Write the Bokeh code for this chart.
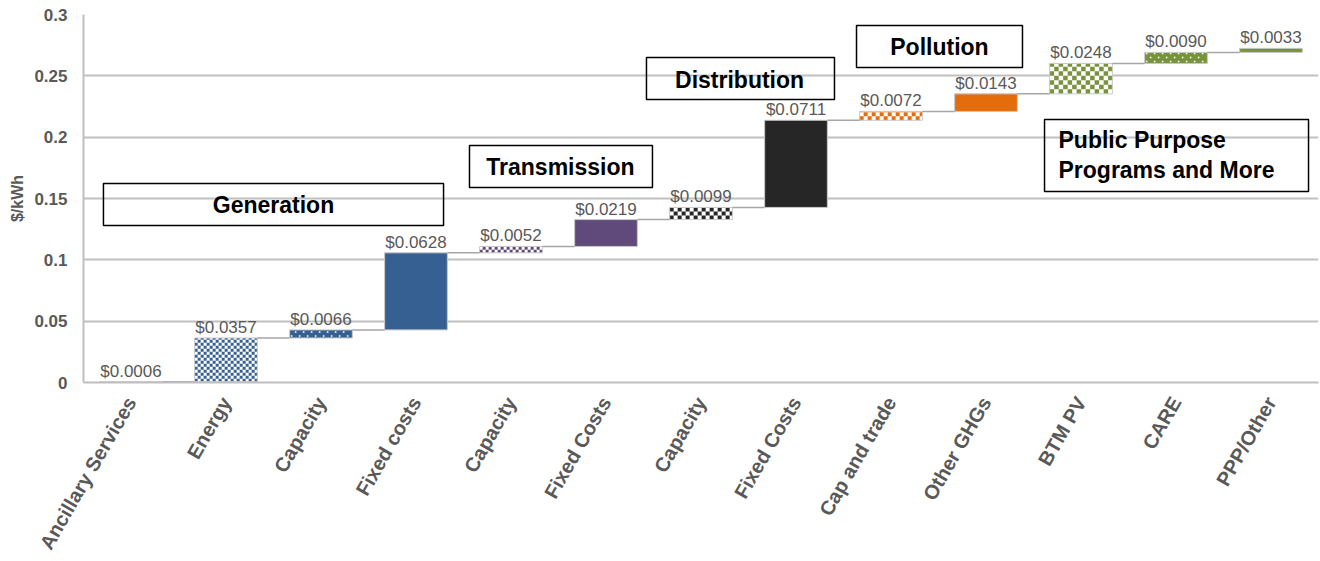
import numpy as np
from bokeh.plotting import figure
from bokeh.models import ColumnDataSource, Range1d, FixedTicker
from bokeh.core.properties import value
from bokeh.embed import file_html
from bokeh.resources import INLINE

# ---------------- data ----------------
categories = ["Ancillary Services", "Energy", "Capacity", "Fixed costs",
              "Capacity", "Fixed Costs", "Capacity", "Fixed Costs",
              "Cap and trade", "Other GHGs", "BTM PV", "CARE", "PPP/Other"]
costs = [0.0006, 0.0357, 0.0066, 0.0628, 0.0052, 0.0219, 0.0099, 0.0711,
         0.0072, 0.0143, 0.0248, 0.0090, 0.0033]
y_ticks = [0, 0.05, 0.1, 0.15, 0.2, 0.25, 0.3]
y_tick_labels = ["0", "0.05", "0.1", "0.15", "0.2", "0.25", "0.3"]
group_names = ["Generation", "Transmission", "Distribution", "Pollution",
               "Public Purpose\nPrograms and More"]

# ---------------- styles ----------------
BLUE, PURPLE, DARK, ORANGE, GREEN = "#376092", "#604A7B", "#262626", "#E46C0A", "#77933C"
GREY_TXT = "#595959"
FONT = "Liberation Sans"

# bar style: (background fill, pattern kind, pattern colour, pattern cell px)
styles = [("#bfbfbf", None, None, 0),
          ("white", "checker", BLUE, 3),
          (BLUE, "dots", "white", 8),
          (BLUE, None, None, 0),
          ("white", "checker", PURPLE, 3),
          (PURPLE, None, None, 0),
          ("white", "checker", DARK, 4),
          (DARK, None, None, 0),
          ("white", "checker", ORANGE, 4),
          (ORANGE, None, None, 0),
          ("white", "checker", GREEN, 4.5),
          (GREEN, "dots", "white", 8),
          (GREEN, None, None, 0)]

W = 0.66
FRAME_W, FRAME_H = 1235, 368
Y_MAX = 0.3
PX_X = len(categories) / FRAME_W      # data units per screen px (x)
PX_Y = Y_MAX / FRAME_H                # data units per screen px (y)

vals = np.array(costs)
top = np.cumsum(vals)
bottom = top - vals
idx = np.arange(len(categories))

src = ColumnDataSource(dict(x=idx, top=top, bottom=bottom,
                            fill=[s[0] for s in styles],
                            lbl=[f"${v:.4f}" for v in costs]))

# pattern geometry derived from bar extents
ck_l, ck_r, ck_b, ck_t, ck_c = [], [], [], [], []
dot_x, dot_y = [], []
for i, (bg, kind, pc, cell) in enumerate(styles):
    L, R, B, T = i - W / 2, i + W / 2, bottom[i], top[i]
    if kind == "checker":
        cx, cy = cell * PX_X, cell * PX_Y
        ncol = int(np.ceil((R - L) / cx))
        nrow = int(np.ceil((T - B) / cy))
        for r in range(nrow):
            for k in range(ncol):
                if (r + k) % 2 == 0:
                    ck_l.append(L + k * cx)
                    ck_r.append(min(L + (k + 1) * cx, R))
                    ck_b.append(B + r * cy)
                    ck_t.append(min(B + (r + 1) * cy, T))
                    ck_c.append(pc)
    elif kind == "dots":
        sx, sy = cell * PX_X, (cell / 2) * PX_Y
        r = 0
        yy = B + 2 * PX_Y
        while yy < T - 1 * PX_Y:
            xx = L + (2 + (cell / 2 if r % 2 else 0)) * PX_X
            while xx < R - 1 * PX_X:
                dot_x.append(xx)
                dot_y.append(yy)
                xx += sx
            yy += sy
            r += 1

p = figure(width=1320, height=561, output_backend="svg", toolbar_location=None,
           x_range=Range1d(-0.5, len(categories) - 0.5), y_range=Range1d(0, Y_MAX),
           min_border_left=83, min_border_right=2, min_border_top=14, min_border_bottom=179)
p.outline_line_color = None
p.background_fill_color = "white"

p.vbar(x="x", top="top", bottom="bottom", width=W, source=src,
       fill_color="fill", line_color=None)
p.quad(left=ck_l, right=ck_r, bottom=ck_b, top=ck_t, fill_color=ck_c, line_color=None)
p.rect(x=dot_x, y=dot_y, width=1.6, height=1.6, width_units="screen",
       height_units="screen", fill_color="white", line_color=None)
p.vbar(x="x", top="top", bottom="bottom", width=W, source=src,
       fill_color=None, line_color="#c8c8c8", line_width=1)

# connectors
p.segment(x0=idx[:-1] + W / 2, x1=idx[1:] - W / 2, y0=top[:-1], y1=top[:-1],
          line_color="#a6a6a6", line_width=1.5)

# value labels
p.text(x="x", y="top", text="lbl", source=src, text_align="center",
       text_baseline="bottom", y_offset=-1, text_color=GREY_TXT,
       text_font=value(FONT), text_font_size="17px")

# group boxes (left, right, bottom, top) in data units
box_l = [-0.29, 3.563, 5.426, 7.637, 9.616]
box_r = [3.29, 5.489, 7.405, 9.384, 12.395]
box_b = [0.128, 0.159, 0.2307, 0.2568, 0.1557]
box_t = [0.1622, 0.1932, 0.265, 0.291, 0.2144]
p.quad(left=box_l, right=box_r, bottom=box_b, top=box_t, fill_color=None,
       line_color="black", line_width=1.5)

p.text(x=[1.5, 4.52, 6.406, 8.51], y=[0.138, 0.1688, 0.2402, 0.2671],
       text=group_names[:4], text_align="center", text_baseline="alphabetic",
       y_offset=-8, text_color="black", text_font=value(FONT),
       text_font_style="bold", text_font_size="23px")
p.text(x=[9.763, 9.763], y=[0.1908, 0.1671], text=group_names[4].split("\n"),
       text_align="left", text_baseline="alphabetic", y_offset=-8,
       text_color="black", text_font=value(FONT), text_font_style="bold",
       text_font_size="23px")

# axes
p.xaxis.ticker = FixedTicker(ticks=list(idx))
p.xaxis.major_label_overrides = {int(i): c for i, c in zip(idx, categories)}
p.xaxis.major_label_orientation = np.radians(60)
p.xaxis.major_label_text_font = FONT
p.xaxis.major_label_text_font_style = "bold"
p.xaxis.major_label_text_font_size = "20px"
p.xaxis.major_label_text_color = GREY_TXT
p.xaxis.major_label_standoff = 10
p.xaxis.major_tick_line_color = None
p.xaxis.minor_tick_line_color = None
p.xaxis.axis_line_color = "#bfbfbf"
p.xaxis.axis_line_width = 2

p.yaxis.ticker = FixedTicker(ticks=y_ticks)
p.yaxis.major_label_overrides = {t: s for t, s in zip(y_ticks, y_tick_labels)}
p.yaxis.major_label_text_font = FONT
p.yaxis.major_label_text_font_style = "bold"
p.yaxis.major_label_text_font_size = "17px"
p.yaxis.major_label_text_color = GREY_TXT
p.yaxis.major_label_standoff = 10
p.yaxis.major_tick_line_color = None
p.yaxis.minor_tick_line_color = None
p.yaxis.axis_line_color = "#bfbfbf"
p.yaxis.axis_line_width = 2
p.yaxis.axis_label = "$/kWh"
p.yaxis.axis_label_text_font = FONT
p.yaxis.axis_label_text_font_style = "bold"
p.yaxis.axis_label_text_font_size = "16px"
p.yaxis.axis_label_text_color = GREY_TXT
p.yaxis.axis_label_standoff = 5

p.xgrid.grid_line_color = None
p.ygrid.ticker = FixedTicker(ticks=y_ticks)
p.ygrid.grid_line_color = "#c0c0c0"
p.ygrid.grid_line_width = 2

open("out.html", "w").write(file_html(p, INLINE))
